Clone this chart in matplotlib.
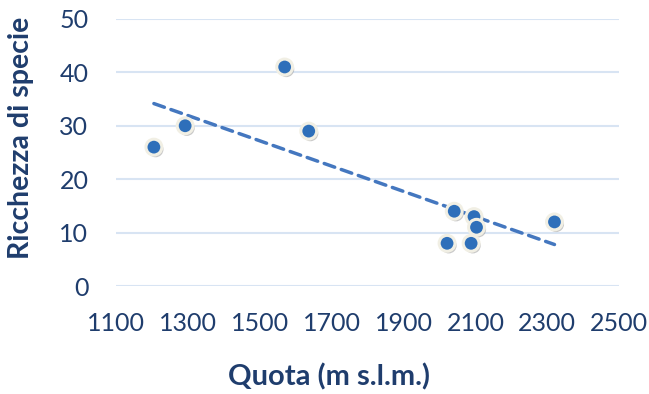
import numpy as np
import matplotlib
matplotlib.use("Agg")
import matplotlib.pyplot as plt
import matplotlib.patheffects as pe

# ---------------------------
# Data
# ---------------------------
quota = [1205, 1292, 1569, 1636, 2041, 2021, 2096, 2103, 2088, 2320]
ricchezza = [26, 30, 41, 29, 14, 8, 13, 11, 8, 12]

x_ticks = [1100, 1300, 1500, 1700, 1900, 2100, 2300, 2500]
y_ticks = [0, 10, 20, 30, 40, 50]

text_col = "#1F3D6D"
dot_col = "#2E6FBA"
grid_col = "#D8E4F3"

plt.rcParams["font.family"] = ["Lato", "DejaVu Sans"]

fig = plt.figure(figsize=(6.49, 3.94), dpi=100)
ax = fig.add_axes([0.179, 0.274, 0.775, 0.678])

# linear trendline (least squares over the points)
slope, icpt = np.polyfit(quota, ricchezza, 1)
xt = np.array([min(quota), max(quota)])
ax.plot(xt, slope * xt + icpt, color="#4477BF", lw=2.5,
        dashes=(3.2, 2.0), dash_capstyle="round", zorder=2)

ax.scatter(quota, ricchezza, s=130, color=dot_col, edgecolors="#F1EFE4",
           linewidths=2.2, zorder=3,
           path_effects=[pe.SimplePatchShadow(offset=(1.2, -1.6), shadow_rgbFace="#888888", alpha=0.45),
                         pe.Normal()])

ax.set_xlim(1100, 2500)
ax.set_ylim(0, 50)
ax.set_xticks(x_ticks)
ax.set_yticks(y_ticks)
ax.tick_params(length=0, labelsize=18, colors=text_col)
ax.tick_params(axis="x", pad=19)
ax.tick_params(axis="y", pad=20)
ax.grid(axis="y", color=grid_col, lw=1.5)
ax.set_axisbelow(True)
for s in ax.spines.values():
    s.set_visible(False)

fig.text(0.507, 0.043, "Quota (m s.l.m.)", ha="center", va="center",
         fontsize=21, fontweight="bold", color=text_col)
fig.text(0.033, 0.65, "Ricchezza di specie", ha="center", va="center",
         rotation=90, fontsize=20.5, fontweight="bold", color=text_col)

fig.savefig("out.png", dpi=100)
